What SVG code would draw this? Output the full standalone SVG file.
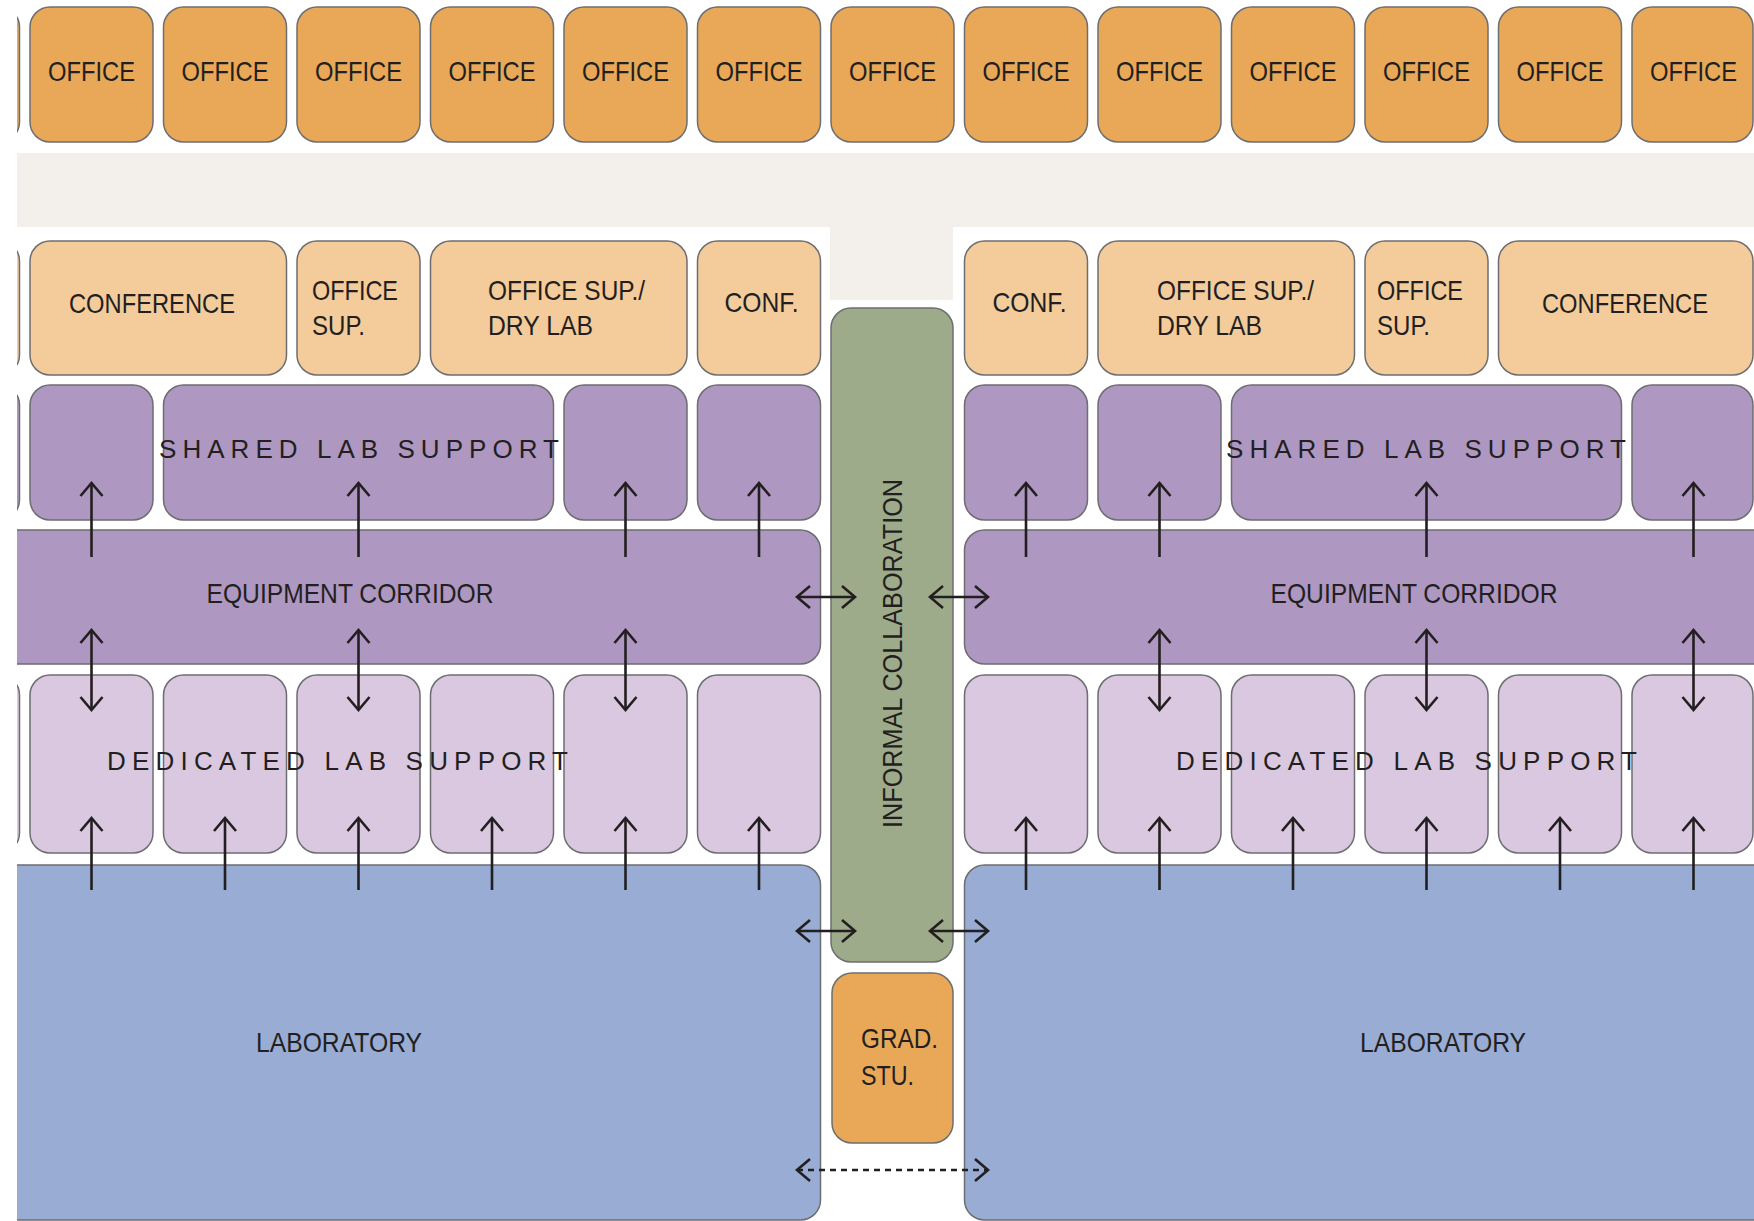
<svg xmlns="http://www.w3.org/2000/svg" width="1754" height="1221" viewBox="0 0 1754 1221">
<defs>
<style>
.box{stroke:#6d6e71;stroke-width:1.5}
.off{fill:#e8a857}
.sup{fill:#f4cb9b}
.shr{fill:#ae97c0}
.ded{fill:#d9c8df}
.lab{fill:#98acd4}
.grn{fill:#9eab8a}
.t{font-family:"Liberation Sans Narrow","Liberation Sans",Arial,sans-serif;font-size:28px;fill:#231f20}
.s{font-family:"Liberation Sans",Arial,sans-serif;font-size:26px;fill:#231f20}
.m{text-anchor:middle}
.ln{stroke:#231f20;stroke-width:2.6;fill:none}
</style>
<marker id="ah" markerUnits="userSpaceOnUse" viewBox="-16 -13 20 26" markerWidth="20" markerHeight="26" refX="0" refY="0" orient="auto-start-reverse">
<path d="M-13,-11 L0,0 L-13,11" fill="none" stroke="#231f20" stroke-width="2.6"/>
</marker>
</defs>
<rect width="1754" height="1221" fill="#ffffff"/>
<g id="background">
<rect x="17" y="153" width="1737" height="74" fill="#f3efeb"/>
<rect x="830" y="226" width="123" height="74" fill="#f3efeb"/>
</g>
<g id="offices">
<rect class="box off" x="-103.5" y="7" width="123" height="135" rx="20"/>
<g id="office-1"><rect class="box off" x="30" y="7" width="123" height="135" rx="20"/><text class="t m" x="91.5" y="81" textLength="87" lengthAdjust="spacingAndGlyphs">OFFICE</text></g>
<g id="office-2"><rect class="box off" x="163.5" y="7" width="123" height="135" rx="20"/><text class="t m" x="225" y="81" textLength="87" lengthAdjust="spacingAndGlyphs">OFFICE</text></g>
<g id="office-3"><rect class="box off" x="297" y="7" width="123" height="135" rx="20"/><text class="t m" x="358.5" y="81" textLength="87" lengthAdjust="spacingAndGlyphs">OFFICE</text></g>
<g id="office-4"><rect class="box off" x="430.5" y="7" width="123" height="135" rx="20"/><text class="t m" x="492" y="81" textLength="87" lengthAdjust="spacingAndGlyphs">OFFICE</text></g>
<g id="office-5"><rect class="box off" x="564" y="7" width="123" height="135" rx="20"/><text class="t m" x="625.5" y="81" textLength="87" lengthAdjust="spacingAndGlyphs">OFFICE</text></g>
<g id="office-6"><rect class="box off" x="697.5" y="7" width="123" height="135" rx="20"/><text class="t m" x="759" y="81" textLength="87" lengthAdjust="spacingAndGlyphs">OFFICE</text></g>
<g id="office-7"><rect class="box off" x="831" y="7" width="123" height="135" rx="20"/><text class="t m" x="892.5" y="81" textLength="87" lengthAdjust="spacingAndGlyphs">OFFICE</text></g>
<g id="office-8"><rect class="box off" x="964.5" y="7" width="123" height="135" rx="20"/><text class="t m" x="1026" y="81" textLength="87" lengthAdjust="spacingAndGlyphs">OFFICE</text></g>
<g id="office-9"><rect class="box off" x="1098" y="7" width="123" height="135" rx="20"/><text class="t m" x="1159.5" y="81" textLength="87" lengthAdjust="spacingAndGlyphs">OFFICE</text></g>
<g id="office-10"><rect class="box off" x="1231.5" y="7" width="123" height="135" rx="20"/><text class="t m" x="1293" y="81" textLength="87" lengthAdjust="spacingAndGlyphs">OFFICE</text></g>
<g id="office-11"><rect class="box off" x="1365" y="7" width="123" height="135" rx="20"/><text class="t m" x="1426.5" y="81" textLength="87" lengthAdjust="spacingAndGlyphs">OFFICE</text></g>
<g id="office-12"><rect class="box off" x="1498.5" y="7" width="123" height="135" rx="20"/><text class="t m" x="1560" y="81" textLength="87" lengthAdjust="spacingAndGlyphs">OFFICE</text></g>
<g id="office-13"><rect class="box off" x="1632" y="7" width="121" height="135" rx="20"/><text class="t m" x="1693.5" y="81" textLength="87" lengthAdjust="spacingAndGlyphs">OFFICE</text></g>
</g>
<g id="support-row">
<rect class="box sup" x="-103.5" y="241" width="123" height="134" rx="20"/>
<g id="conference-l"><rect class="box sup" x="30" y="241" width="256.5" height="134" rx="20"/><text class="t m" x="152" y="313" textLength="166" lengthAdjust="spacingAndGlyphs">CONFERENCE</text></g>
<g id="office-sup-l"><rect class="box sup" x="297" y="241" width="123" height="134" rx="20"/><text class="t" x="312" y="300" textLength="86" lengthAdjust="spacingAndGlyphs">OFFICE</text><text class="t" x="312" y="335" textLength="53" lengthAdjust="spacingAndGlyphs">SUP.</text></g>
<g id="dry-lab-l"><rect class="box sup" x="430.5" y="241" width="256.5" height="134" rx="20"/><text class="t" x="488" y="300" textLength="157" lengthAdjust="spacingAndGlyphs">OFFICE SUP./</text><text class="t" x="488" y="335" textLength="105" lengthAdjust="spacingAndGlyphs">DRY LAB</text></g>
<g id="conf-l"><rect class="box sup" x="697.5" y="241" width="123" height="134" rx="20"/><text class="t m" x="761.5" y="312" textLength="74" lengthAdjust="spacingAndGlyphs">CONF.</text></g>
<g id="conf-r"><rect class="box sup" x="964.5" y="241" width="123" height="134" rx="20"/><text class="t m" x="1029.5" y="312" textLength="74" lengthAdjust="spacingAndGlyphs">CONF.</text></g>
<g id="dry-lab-r"><rect class="box sup" x="1098" y="241" width="256.5" height="134" rx="20"/><text class="t" x="1157" y="300" textLength="157" lengthAdjust="spacingAndGlyphs">OFFICE SUP./</text><text class="t" x="1157" y="335" textLength="105" lengthAdjust="spacingAndGlyphs">DRY LAB</text></g>
<g id="office-sup-r"><rect class="box sup" x="1365" y="241" width="123" height="134" rx="20"/><text class="t" x="1377" y="300" textLength="86" lengthAdjust="spacingAndGlyphs">OFFICE</text><text class="t" x="1377" y="335" textLength="53" lengthAdjust="spacingAndGlyphs">SUP.</text></g>
<g id="conference-r"><rect class="box sup" x="1498.5" y="241" width="254.5" height="134" rx="20"/><text class="t m" x="1625" y="313" textLength="166" lengthAdjust="spacingAndGlyphs">CONFERENCE</text></g>
</g>
<g id="shared-lab-support">
<rect class="box shr" x="-103.5" y="385" width="123" height="135" rx="20"/>
<rect class="box shr" x="30" y="385" width="123" height="135" rx="20"/>
<rect class="box shr" x="163.5" y="385" width="390" height="135" rx="20"/>
<rect class="box shr" x="564" y="385" width="123" height="135" rx="20"/>
<rect class="box shr" x="697.5" y="385" width="123" height="135" rx="20"/>
<rect class="box shr" x="964.5" y="385" width="123" height="135" rx="20"/>
<rect class="box shr" x="1098" y="385" width="123" height="135" rx="20"/>
<rect class="box shr" x="1231.5" y="385" width="390" height="135" rx="20"/>
<rect class="box shr" x="1632" y="385" width="121" height="135" rx="20"/>
<text class="s" x="159" y="458" textLength="400" lengthAdjust="spacing">SHARED LAB SUPPORT</text>
<text class="s" x="1226" y="458" textLength="400" lengthAdjust="spacing">SHARED LAB SUPPORT</text>
</g>
<g id="equipment-corridor-l"><rect class="box shr" x="-30" y="530" width="850.5" height="134" rx="20"/><text class="t m" x="350" y="603" textLength="287" lengthAdjust="spacingAndGlyphs">EQUIPMENT CORRIDOR</text></g>
<g id="equipment-corridor-r"><rect class="box shr" x="964.5" y="530" width="820" height="134" rx="20"/><text class="t m" x="1414" y="603" textLength="287" lengthAdjust="spacingAndGlyphs">EQUIPMENT CORRIDOR</text></g>
<g id="dedicated-lab-support">
<rect class="box ded" x="-103.5" y="675" width="123" height="178" rx="20"/>
<rect class="box ded" x="30" y="675" width="123" height="178" rx="20"/>
<rect class="box ded" x="163.5" y="675" width="123" height="178" rx="20"/>
<rect class="box ded" x="297" y="675" width="123" height="178" rx="20"/>
<rect class="box ded" x="430.5" y="675" width="123" height="178" rx="20"/>
<rect class="box ded" x="564" y="675" width="123" height="178" rx="20"/>
<rect class="box ded" x="697.5" y="675" width="123" height="178" rx="20"/>
<rect class="box ded" x="964.5" y="675" width="123" height="178" rx="20"/>
<rect class="box ded" x="1098" y="675" width="123" height="178" rx="20"/>
<rect class="box ded" x="1231.5" y="675" width="123" height="178" rx="20"/>
<rect class="box ded" x="1365" y="675" width="123" height="178" rx="20"/>
<rect class="box ded" x="1498.5" y="675" width="123" height="178" rx="20"/>
<rect class="box ded" x="1632" y="675" width="121" height="178" rx="20"/>
<text class="s" x="107" y="770" textLength="461" lengthAdjust="spacing">DEDICATED LAB SUPPORT</text>
<text class="s" x="1176" y="770" textLength="461" lengthAdjust="spacing">DEDICATED LAB SUPPORT</text>
</g>
<g id="laboratory-l"><rect class="box lab" x="-30" y="865" width="850.5" height="355" rx="20"/><text class="t m" x="339" y="1052" textLength="166" lengthAdjust="spacingAndGlyphs">LABORATORY</text></g>
<g id="laboratory-r"><rect class="box lab" x="964.5" y="865" width="820" height="355" rx="20"/><text class="t m" x="1443" y="1052" textLength="166" lengthAdjust="spacingAndGlyphs">LABORATORY</text></g>
<g id="informal-collaboration"><rect class="box grn" x="831" y="308" width="122" height="654" rx="20"/><text class="t m" transform="translate(902,653.5) rotate(-90)" x="0" y="0" textLength="349" lengthAdjust="spacingAndGlyphs">INFORMAL COLLABORATION</text></g>
<g id="grad-stu"><rect class="box off" x="832" y="973" width="121" height="170" rx="20"/><text class="t" x="861" y="1048" textLength="77" lengthAdjust="spacingAndGlyphs">GRAD.</text><text class="t" x="861" y="1085" textLength="53" lengthAdjust="spacingAndGlyphs">STU.</text></g>
<rect x="0" y="0" width="17" height="1221" fill="#ffffff"/>
<g id="connectors">
<line class="ln" x1="91.5" y1="557" x2="91.5" y2="483" marker-end="url(#ah)"/>
<line class="ln" x1="358.5" y1="557" x2="358.5" y2="483" marker-end="url(#ah)"/>
<line class="ln" x1="625.5" y1="557" x2="625.5" y2="483" marker-end="url(#ah)"/>
<line class="ln" x1="759" y1="557" x2="759" y2="483" marker-end="url(#ah)"/>
<line class="ln" x1="1026" y1="557" x2="1026" y2="483" marker-end="url(#ah)"/>
<line class="ln" x1="1159.5" y1="557" x2="1159.5" y2="483" marker-end="url(#ah)"/>
<line class="ln" x1="1426.5" y1="557" x2="1426.5" y2="483" marker-end="url(#ah)"/>
<line class="ln" x1="1693.5" y1="557" x2="1693.5" y2="483" marker-end="url(#ah)"/>
<line class="ln" x1="91.5" y1="630" x2="91.5" y2="710" marker-start="url(#ah)" marker-end="url(#ah)"/>
<line class="ln" x1="358.5" y1="630" x2="358.5" y2="710" marker-start="url(#ah)" marker-end="url(#ah)"/>
<line class="ln" x1="625.5" y1="630" x2="625.5" y2="710" marker-start="url(#ah)" marker-end="url(#ah)"/>
<line class="ln" x1="1159.5" y1="630" x2="1159.5" y2="710" marker-start="url(#ah)" marker-end="url(#ah)"/>
<line class="ln" x1="1426.5" y1="630" x2="1426.5" y2="710" marker-start="url(#ah)" marker-end="url(#ah)"/>
<line class="ln" x1="1693.5" y1="630" x2="1693.5" y2="710" marker-start="url(#ah)" marker-end="url(#ah)"/>
<line class="ln" x1="91.5" y1="890" x2="91.5" y2="818" marker-end="url(#ah)"/>
<line class="ln" x1="225" y1="890" x2="225" y2="818" marker-end="url(#ah)"/>
<line class="ln" x1="358.5" y1="890" x2="358.5" y2="818" marker-end="url(#ah)"/>
<line class="ln" x1="492" y1="890" x2="492" y2="818" marker-end="url(#ah)"/>
<line class="ln" x1="625.5" y1="890" x2="625.5" y2="818" marker-end="url(#ah)"/>
<line class="ln" x1="759" y1="890" x2="759" y2="818" marker-end="url(#ah)"/>
<line class="ln" x1="1026" y1="890" x2="1026" y2="818" marker-end="url(#ah)"/>
<line class="ln" x1="1159.5" y1="890" x2="1159.5" y2="818" marker-end="url(#ah)"/>
<line class="ln" x1="1293" y1="890" x2="1293" y2="818" marker-end="url(#ah)"/>
<line class="ln" x1="1426.5" y1="890" x2="1426.5" y2="818" marker-end="url(#ah)"/>
<line class="ln" x1="1560" y1="890" x2="1560" y2="818" marker-end="url(#ah)"/>
<line class="ln" x1="1693.5" y1="890" x2="1693.5" y2="818" marker-end="url(#ah)"/>
<line class="ln" x1="797" y1="597" x2="855" y2="597" marker-start="url(#ah)" marker-end="url(#ah)"/>
<line class="ln" x1="930" y1="597" x2="988" y2="597" marker-start="url(#ah)" marker-end="url(#ah)"/>
<line class="ln" x1="797" y1="931" x2="855" y2="931" marker-start="url(#ah)" marker-end="url(#ah)"/>
<line class="ln" x1="930" y1="931" x2="988" y2="931" marker-start="url(#ah)" marker-end="url(#ah)"/>
<line class="ln" x1="797" y1="1170" x2="988" y2="1170" stroke-dasharray="6 5" marker-start="url(#ah)" marker-end="url(#ah)"/>
</g>
</svg>
